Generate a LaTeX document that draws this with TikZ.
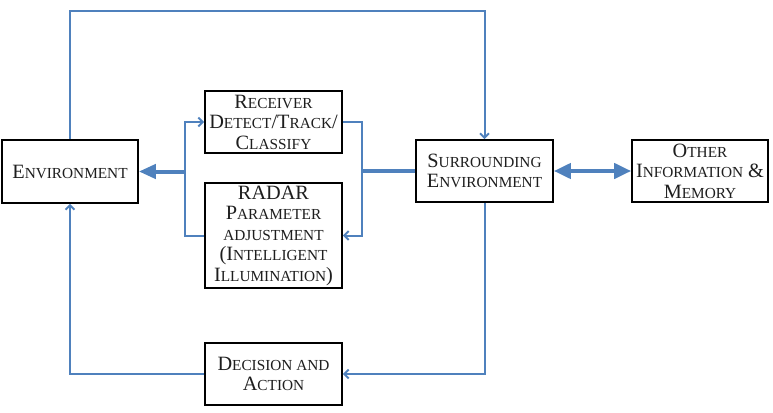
\documentclass[tikz,border=0pt]{standalone}
\usepackage{fontspec}
\setmainfont{Liberation Serif}
\usetikzlibrary{arrows.meta}
\definecolor{lblue}{RGB}{79,129,189}
\definecolor{txt}{RGB}{30,30,30}
\newcommand\Sm[1]{{\fontsize{15.3}{20.5}\selectfont #1}}
\tikzset{
  blk/.style={draw=black, line width=1.6pt, fill=white, inner sep=0pt, align=center,
    text=txt, font=\fontsize{20.3}{20.5}\selectfont, minimum width=137pt, minimum height=62pt},
  conn/.style={draw=lblue, line width=2pt, -{Straight Barb[length=4.5pt,width=9pt]}},
  plain/.style={draw=lblue, line width=2pt},
  fat/.style={draw=lblue, line width=4pt, -{Triangle[length=17pt,width=14pt]}},
  fatboth/.style={draw=lblue, line width=4pt, {Triangle[length=17pt,width=15pt]}-{Triangle[length=17pt,width=15pt]}}
}
\begin{document}
\begin{tikzpicture}[x=1pt,y=-1pt]
\useasboundingbox (0,0) rectangle (773,412);
\node[blk, minimum width=136pt, minimum height=63pt] (env) at (70,171.5) {E\Sm{NVIRONMENT}};
\node[blk] (rec) at (273.5,122) {R\Sm{ECEIVER}\\D\Sm{ETECT}/T\Sm{RACK}/\\C\Sm{LASSIFY}};
\node[blk, minimum height=105pt] (rad) at (273.5,235.5) {RADAR\\P\Sm{ARAMETER}\\\Sm{ADJUSTMENT}\\(I\Sm{NTELLIGENT}\\I\Sm{LLUMINATION})};
\node[blk] (sur) at (484.5,171) {S\Sm{URROUNDING}\\E\Sm{NVIRONMENT}};
\node[blk, minimum width=136pt] (oth) at (700,171) {O\Sm{THER}\\I\Sm{NFORMATION} \&\\M\Sm{EMORY}};
\node[blk] (dec) at (273.5,374) {D\Sm{ECISION AND}\\A\Sm{CTION}};
\coordinate (tl) at (70,11);
\coordinate (tr) at (484.5,11);
\coordinate (br) at (484.5,374);
\coordinate (bl) at (70,374);
\coordinate (lt) at (185,122);
\coordinate (lb) at (185,235.5);
\coordinate (lm) at (185,171.5);
\coordinate (rt) at (362,122);
\coordinate (rb) at (362,235.5);
\coordinate (rm) at (362,171);
\draw[conn] (env.north) -- (tl) -- (tr) -- (sur.north);
\draw[conn] (sur.south) -- (br) -- (dec.east);
\draw[conn] (dec.west) -- (bl) -- (env.south);
\draw[conn] (rad.west) -- (lb) -- (lt) -- (rec.west);
\draw[conn] (rec.east) -- (rt) -- (rb) -- (rad.east);
\draw[fat] (lm) -- (env.east);
\draw[plain, line width=4pt] (sur.west) -- (rm);
\draw[fatboth] (sur.east) -- (oth.west);
\end{tikzpicture}
\end{document}
